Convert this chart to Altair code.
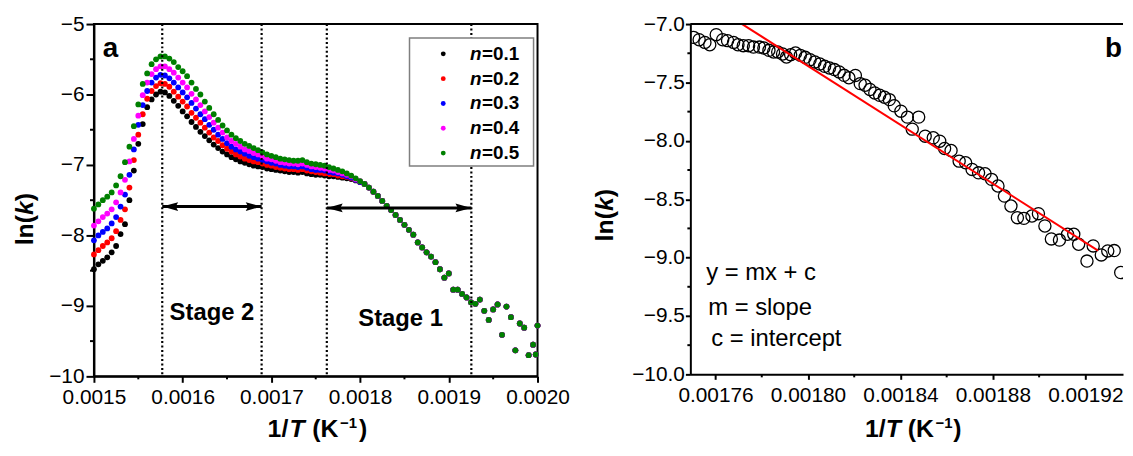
import altair as alt
import pandas as pd

FONT = "Liberation Sans"

# ---------------- panel a data ----------------
n_labels = ["n=0.1", "n=0.2", "n=0.3", "n=0.4", "n=0.5"]
n_values = ["0.1", "0.2", "0.3", "0.4", "0.5"]
n_colors = ["#000000", "#ff0000", "#0000ff", "#ff00ff", "#008000"]

x_head = [0.001500, 0.001505, 0.001510, 0.001515, 0.001520, 0.001525, 0.001530, 0.001535, 0.001540, 0.001545,
          0.001550, 0.001555, 0.001560, 0.001565, 0.001570, 0.001575, 0.001580, 0.001585, 0.001590, 0.001595,
          0.001600, 0.001605, 0.001610, 0.001615, 0.001620, 0.001625, 0.001630, 0.001635, 0.001640, 0.001645,
          0.001650, 0.001655, 0.001660, 0.001665, 0.001670, 0.001675, 0.001680, 0.001685, 0.001690, 0.001695,
          0.001700, 0.001705, 0.001710, 0.001715, 0.001720, 0.001725, 0.001730, 0.001735, 0.001740, 0.001745,
          0.001750, 0.001755, 0.001760, 0.001765, 0.001770, 0.001775, 0.001780, 0.001785, 0.001790, 0.001795,
          0.001800]

lnk_n01 = [-8.48, -8.41, -8.36, -8.31, -8.24, -8.15, -7.98, -7.84, -7.50, -7.08,
           -6.70, -6.42, -6.18, -6.07, -6.00, -5.96, -5.97, -6.02, -6.09, -6.16,
           -6.24, -6.31, -6.39, -6.46, -6.53, -6.59, -6.65, -6.71, -6.76, -6.81,
           -6.85, -6.89, -6.92, -6.95, -6.97, -6.99, -7.01, -7.02, -7.03, -7.05,
           -7.06, -7.07, -7.08, -7.09, -7.10, -7.10, -7.11, -7.10, -7.12, -7.13,
           -7.14, -7.14, -7.15, -7.16, -7.16, -7.17, -7.18, -7.19, -7.20, -7.22,
           -7.24]
lnk_n02 = [-8.27, -8.21, -8.15, -8.10, -8.04, -7.94, -7.78, -7.63, -7.32, -6.93,
           -6.57, -6.28, -6.06, -5.95, -5.88, -5.84, -5.85, -5.89, -5.96, -6.03,
           -6.10, -6.17, -6.26, -6.33, -6.40, -6.47, -6.54, -6.61, -6.66, -6.72,
           -6.77, -6.81, -6.85, -6.88, -6.91, -6.93, -6.95, -6.96, -6.98, -7.00,
           -7.01, -7.03, -7.04, -7.05, -7.06, -7.06, -7.07, -7.06, -7.08, -7.09,
           -7.10, -7.11, -7.12, -7.13, -7.13, -7.15, -7.16, -7.17, -7.19, -7.21,
           -7.24]
lnk_n03 = [-8.07, -8.00, -7.95, -7.90, -7.83, -7.74, -7.59, -7.42, -7.14, -6.78,
           -6.43, -6.15, -5.95, -5.83, -5.76, -5.72, -5.73, -5.77, -5.83, -5.90,
           -5.97, -6.04, -6.12, -6.20, -6.28, -6.35, -6.43, -6.50, -6.57, -6.63,
           -6.69, -6.74, -6.78, -6.81, -6.84, -6.87, -6.89, -6.91, -6.93, -6.95,
           -6.97, -6.98, -7.00, -7.01, -7.02, -7.02, -7.03, -7.02, -7.04, -7.06,
           -7.07, -7.07, -7.08, -7.10, -7.11, -7.12, -7.14, -7.16, -7.18, -7.21,
           -7.24]
lnk_n04 = [-7.86, -7.80, -7.74, -7.69, -7.63, -7.53, -7.39, -7.21, -6.95, -6.63,
           -6.30, -6.01, -5.83, -5.71, -5.64, -5.60, -5.60, -5.64, -5.69, -5.76,
           -5.83, -5.90, -5.99, -6.07, -6.15, -6.24, -6.32, -6.40, -6.47, -6.54,
           -6.61, -6.66, -6.70, -6.74, -6.78, -6.80, -6.83, -6.85, -6.88, -6.91,
           -6.92, -6.94, -6.96, -6.97, -6.98, -6.98, -6.99, -6.98, -7.00, -7.02,
           -7.03, -7.04, -7.05, -7.07, -7.08, -7.10, -7.12, -7.14, -7.16, -7.20,
           -7.23]
lnk_n05 = [-7.62, -7.56, -7.50, -7.45, -7.39, -7.29, -7.16, -6.96, -6.74, -6.45,
           -6.14, -5.85, -5.70, -5.57, -5.50, -5.46, -5.46, -5.49, -5.54, -5.61,
           -5.67, -5.74, -5.83, -5.92, -6.00, -6.10, -6.19, -6.28, -6.36, -6.44,
           -6.51, -6.57, -6.62, -6.66, -6.70, -6.73, -6.76, -6.79, -6.82, -6.85,
           -6.87, -6.89, -6.91, -6.92, -6.93, -6.94, -6.94, -6.93, -6.96, -6.98,
           -6.99, -7.00, -7.01, -7.03, -7.05, -7.07, -7.09, -7.12, -7.15, -7.19,
           -7.23]

# beyond 1/T = 0.0018 the five series coincide
x_tail = [0.001805, 0.001810, 0.001815, 0.001820, 0.001825, 0.001830, 0.001835, 0.001840, 0.001845, 0.001850,
          0.001855, 0.001860, 0.001865, 0.001870, 0.001875, 0.001880, 0.001885, 0.001890, 0.001895, 0.001900,
          0.001905, 0.001910, 0.001915, 0.001920, 0.001925, 0.001930, 0.001935, 0.001940, 0.001945, 0.001950,
          0.001955, 0.001960, 0.001965, 0.001970, 0.001975, 0.001980, 0.001985, 0.001990, 0.001995, 0.001998,
          0.002000]
lnk_tail = [-7.27, -7.32, -7.38, -7.44, -7.51, -7.58, -7.64, -7.71, -7.78, -7.85,
            -7.92, -7.99, -8.10, -8.17, -8.24, -8.30, -8.38, -8.48, -8.60, -8.54,
            -8.77, -8.77, -8.83, -8.88, -8.95, -8.97, -8.91, -9.07, -9.20, -9.05,
            -8.98, -9.41, -9.01, -9.16, -9.63, -9.25, -9.31, -9.70, -9.55, -9.69,
            -9.28]

stage_bounds = [0.001577, 0.001689, 0.0017625, 0.0019254]
arrow_x1 = [0.001577, 0.0017625]
arrow_x2 = [0.001689, 0.0019254]
arrow_y = [-7.59, -7.61]
stage_names = ["Stage 2", "Stage 1"]
stage_x = [0.001633, 0.0018457]
stage_y = [-9.10, -9.18]

xa_major = [0.0015, 0.0016, 0.0017, 0.0018, 0.0019, 0.0020]
xa_minor = [0.00155, 0.00165, 0.00175, 0.00185, 0.00195]
ya_major = [-10, -9, -8, -7, -6, -5]
ya_minor = [-9.5, -8.5, -7.5, -6.5, -5.5]

# ---------------- panel b data ----------------
b_x = [0.0017505, 0.0017529, 0.0017554, 0.0017575, 0.0017603, 0.0017631, 0.0017652, 0.0017678, 0.0017697, 0.0017720,
       0.0017743, 0.0017764, 0.0017790, 0.0017809, 0.0017831, 0.0017851, 0.0017869, 0.0017890, 0.0017907, 0.0017925,
       0.0017946, 0.0017967, 0.0017988, 0.0018009, 0.0018030, 0.0018051, 0.0018072, 0.0018093, 0.0018114, 0.0018135,
       0.0018156, 0.0018177, 0.0018205, 0.0018226, 0.0018247, 0.0018268, 0.0018289, 0.0018310, 0.0018331, 0.0018352,
       0.0018373, 0.0018402, 0.0018430, 0.0018451, 0.0018479, 0.0018507, 0.0018542, 0.0018570, 0.0018591, 0.0018619,
       0.0018654, 0.0018682, 0.0018710, 0.0018738, 0.0018766, 0.0018794, 0.0018822, 0.0018850, 0.0018878, 0.0018906,
       0.0018934, 0.0018969, 0.0018997, 0.0019025, 0.0019053, 0.0019088, 0.0019123, 0.0019150, 0.0019171, 0.0019207,
       0.0019234, 0.0019269, 0.0019297, 0.0019325, 0.0019353]
b_y = [-7.114, -7.134, -7.157, -7.177, -7.091, -7.134, -7.142, -7.157, -7.177, -7.185,
       -7.185, -7.197, -7.197, -7.205, -7.225, -7.239, -7.239, -7.256, -7.282, -7.262,
       -7.248, -7.268, -7.285, -7.305, -7.325, -7.342, -7.362, -7.376, -7.390, -7.410,
       -7.439, -7.460, -7.440, -7.510, -7.524, -7.560, -7.590, -7.610, -7.627, -7.647,
       -7.700, -7.746, -7.797, -7.900, -7.797, -7.960, -7.974, -8.003, -8.066, -8.083,
       -8.174, -8.188, -8.245, -8.274, -8.282, -8.330, -8.387, -8.473, -8.558, -8.658,
       -8.664, -8.644, -8.624, -8.729, -8.840, -8.850, -8.800, -8.800, -8.886, -9.030,
       -8.900, -8.977, -8.943, -8.940, -9.128]
fit_x = [0.0017715, 0.0019255]
fit_y = [-7.00, -8.94]
eq_lines = ["y = mx + c", "m = slope", "c = intercept"]

xb_major = [0.00176, 0.00180, 0.00184, 0.00188, 0.00192]
xb_minor = [0.00178, 0.00182, 0.00186, 0.00190]
yb_major = [-10.0, -9.5, -9.0, -8.5, -8.0, -7.5, -7.0]
yb_minor = [-9.75, -9.25, -8.75, -8.25, -7.75, -7.25]

# ---------------- layout ----------------
W_A, H_A = 447, 355
W_B, H_B = 436, 353
XA_DOM = [0.0015, 0.0020]
YA_DOM = [-10, -5]
XB_DOM = [0.0017491, 0.0019363]
YB_DOM = [-10, -7]


def scl(dom):
    return alt.Scale(domain=dom, nice=False, zero=False)


SXA, SYA, SXB, SYB = scl(XA_DOM), scl(YA_DOM), scl(XB_DOM), scl(YB_DOM)

common_axis = dict(title=None, grid=False, labelFont=FONT, labelFontSize=21, labelColor="black",
                   domainColor="black", domainWidth=2, tickColor="black", tickWidth=2,
                   labelFlush=False, labelOverlap=False)
ax_xa = alt.Axis(values=xa_major, format=".4f", tickSize=6, labelPadding=4, **common_axis)
ax_ya = alt.Axis(values=ya_major, format="d", tickSize=8, labelPadding=2, **common_axis)
ax_xb = alt.Axis(values=xb_major, format=".5f", tickSize=5, labelPadding=5, **common_axis)
ax_yb = alt.Axis(values=yb_major, format=".1f", tickSize=5, labelPadding=1, **common_axis)


def XA(f):
    return alt.X(f, type="quantitative", scale=SXA, axis=ax_xa)


def YA(f):
    return alt.Y(f, type="quantitative", scale=SYA, axis=ax_ya)


def XB(f):
    return alt.X(f, type="quantitative", scale=SXB, axis=ax_xb)


def YB(f):
    return alt.Y(f, type="quantitative", scale=SYB, axis=ax_yb)


dummy = pd.DataFrame({"d": [0]})


def ptext(txt, x, y, size, weight="bold", style="normal", angle=0, align="left", baseline="alphabetic"):
    kw = dict(text=txt, font=FONT, fontSize=size, fontWeight=weight, fontStyle=style,
              align=align, baseline=baseline, color="black")
    if angle:
        kw["angle"] = angle
    return alt.Chart(dummy).mark_text(**kw).encode(x=alt.value(x), y=alt.value(y))


# ---------- panel a ----------
rows = []
for lab, head in zip(n_labels, [lnk_n01, lnk_n02, lnk_n03, lnk_n04, lnk_n05]):
    for xv, yv in zip(x_head + x_tail, head + lnk_tail):
        rows.append({"x": xv, "y": yv, "n": lab})
df_a = pd.DataFrame(rows)

pts_a = alt.Chart(df_a).mark_circle(size=34, opacity=1).encode(
    x=XA("x"), y=YA("y"),
    color=alt.Color("n:N", scale=alt.Scale(domain=n_labels, range=n_colors), legend=None))

vlines = alt.Chart(pd.DataFrame({"x": stage_bounds})).mark_rule(
    strokeDash=[2, 2.5], strokeWidth=2.2, color="black").encode(x=XA("x"))

df_arr = pd.DataFrame({"x1": arrow_x1, "x2": arrow_x2, "y": arrow_y})
arr_line = alt.Chart(df_arr).mark_rule(strokeWidth=3, color="black").encode(
    x=XA("x1"), x2="x2:Q", y=YA("y"))
arr_left = alt.Chart(df_arr).mark_point(shape="M0,0L2,-0.55L1.7,0L2,0.55Z", filled=True, size=256,
                                        color="black", opacity=1).encode(x=XA("x1"), y=YA("y"))
arr_right = alt.Chart(df_arr).mark_point(shape="M0,0L-2,-0.55L-1.7,0L-2,0.55Z", filled=True, size=256,
                                         color="black", opacity=1).encode(x=XA("x2"), y=YA("y"))

stages = alt.Chart(pd.DataFrame({"x": stage_x, "y": stage_y, "t": stage_names})).mark_text(
    font=FONT, fontSize=24, fontWeight="bold", align="center", baseline="middle", color="black").encode(
    x=XA("x"), y=YA("y"), text="t:N")

minor_xa = alt.Chart(pd.DataFrame({"v": xa_minor})).mark_rule(strokeWidth=2, color="black").encode(
    x=XA("v"), y=alt.value(H_A), y2=alt.value(H_A + 3))
minor_ya = alt.Chart(pd.DataFrame({"v": ya_minor})).mark_rule(strokeWidth=2, color="black").encode(
    y=YA("v"), x=alt.value(0), x2=alt.value(-4))

legend_layers = [alt.Chart(dummy).mark_rect(fill="white", stroke="#7f7f7f", strokeWidth=1.5).encode(
    x=alt.value(318), x2=alt.value(443), y=alt.value(14), y2=alt.value(143))]
for i, (val, col) in enumerate(zip(n_values, n_colors)):
    yy = 30 + 25 * i
    legend_layers.append(alt.Chart(dummy).mark_circle(size=24, color=col, opacity=1).encode(
        x=alt.value(352), y=alt.value(yy)))
    legend_layers.append(ptext("n", 379, yy, 19, style="italic", baseline="middle"))
    legend_layers.append(ptext("=" + val, 391, yy, 19, baseline="middle"))

TB = 416  # x-title baseline (relative to plot top)
title_a = [
    ptext("1/", 175, TB, 25), ptext("T", 197, TB, 25, style="italic"),
    ptext("(K", 220, TB, 25), ptext("\u22121", 248, TB - 9, 15), ptext(")", 267, TB, 25),
    ptext("ln(", -61, 223, 25, angle=270), ptext("k", -61, 192.4, 25, style="italic", angle=270),
    ptext(")", -61, 178.5, 25, angle=270),
    ptext("a", 9, 33, 28),
]

panel_a = alt.layer(pts_a, vlines, arr_line, arr_left, arr_right, stages, minor_xa, minor_ya,
                    *legend_layers, *title_a).properties(width=W_A, height=H_A)

# ---------- panel b ----------
df_b = pd.DataFrame({"x": b_x, "y": b_y})
pts_b = alt.Chart(df_b).mark_point(shape="circle", filled=False, size=150, color="black",
                                   strokeWidth=1.3, opacity=1, clip=True).encode(x=XB("x"), y=YB("y"))
fit = alt.Chart(pd.DataFrame({"x": fit_x, "y": fit_y})).mark_line(color="#ff0000", strokeWidth=2).encode(
    x=XB("x"), y=YB("y"))
minor_xb = alt.Chart(pd.DataFrame({"v": xb_minor})).mark_rule(strokeWidth=2, color="black").encode(
    x=XB("v"), y=alt.value(H_B), y2=alt.value(H_B + 3))
minor_yb = alt.Chart(pd.DataFrame({"v": yb_minor})).mark_rule(strokeWidth=2, color="black").encode(
    y=YB("v"), x=alt.value(0), x2=alt.value(-3))
top_b = alt.Chart(dummy).mark_rule(strokeWidth=2, color="black").encode(
    x=alt.value(0), x2=alt.value(W_B), y=alt.value(0))

text_b = [
    ptext(eq_lines[0], 16, 258, 24, weight="normal"),
    ptext(eq_lines[1], 18, 293, 24, weight="normal"),
    ptext(eq_lines[2], 21, 324, 24, weight="normal"),
    ptext("b", W_B - 1, 33, 28, align="right"),
    ptext("1/", 176, TB, 25), ptext("T", 197, TB, 25, style="italic"),
    ptext("(K", 219, TB, 25), ptext("\u22121", 247, TB - 9, 15), ptext(")", 265, TB, 25),
    ptext("ln(", -78, 219, 25, angle=270), ptext("k", -78, 188.4, 25, style="italic", angle=270),
    ptext(")", -78, 174.5, 25, angle=270),
]

panel_b = alt.layer(pts_b, fit, minor_xb, minor_yb, top_b, *text_b).properties(
    width=W_B, height=H_B, view=alt.ViewBackground(stroke="transparent"))

chart = alt.hconcat(panel_a, panel_b, spacing=20).properties(
    padding={"left": 3.6, "top": 2.5, "right": 0, "bottom": 0}
).configure_view(stroke="black", strokeWidth=2)

chart.save("out.html", embed_options={"renderer": "svg", "actions": False})
